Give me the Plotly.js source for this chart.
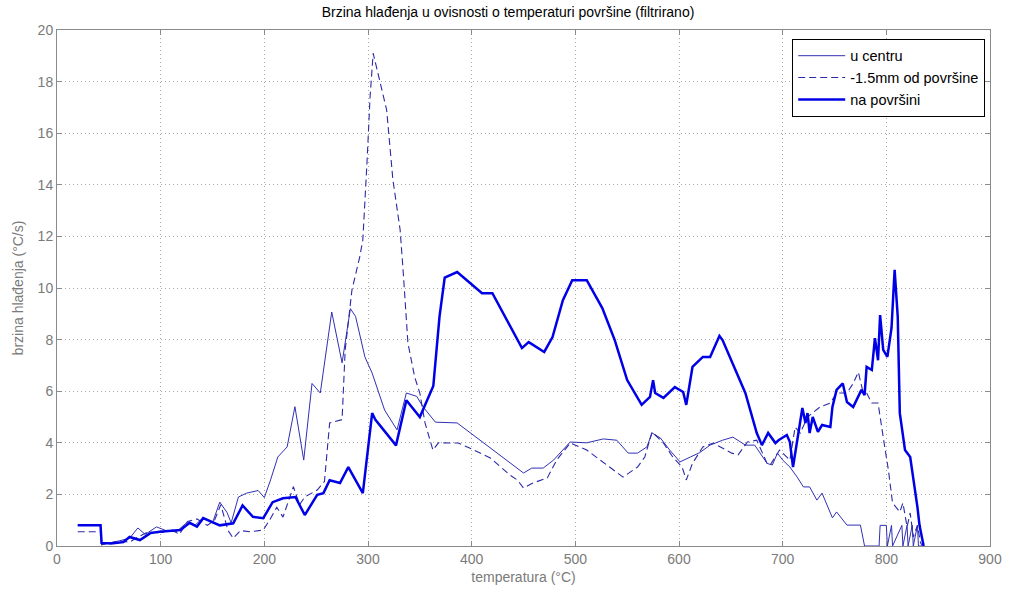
<!DOCTYPE html>
<html>
<head>
<meta charset="utf-8">
<script src="https://cdn.plot.ly/plotly-3.0.1.min.js"></script>
<style>html,body{margin:0;padding:0;background:#fff;}#chart{width:1016px;height:596px;}</style>
</head>
<body>
<div id="chart"></div>
<script>
// u centru
const xCentar = [20, 42, 43, 50, 60, 70, 78, 85, 96, 105, 115, 125, 133, 141, 150, 157, 164, 168, 175, 183, 194, 200, 206, 213, 222, 229.5, 238, 246, 254, 265, 275, 283, 288, 297, 304, 316, 328, 337, 347, 353, 365, 386, 411, 450, 458, 469, 479, 495, 511, 527, 540, 551, 560, 569, 574, 582, 591, 601, 611, 620, 630, 642, 652, 664, 673, 685, 690, 695, 700, 707, 714, 720, 726, 733, 738, 748, 752, 762, 775, 779, 793, 794, 800, 801, 805, 806, 815, 816, 820, 821, 825, 826, 830, 831, 835];
const yCentar = [0.8, 0.8, 0.05, 0.1, 0.2, 0.3, 0.7, 0.45, 0.74, 0.6, 0.55, 0.9, 0.8, 1.1, 0.9, 1.7, 1.3, 0.9, 1.9, 2.05, 2.15, 1.88, 2.56, 3.45, 3.84, 5.4, 3.33, 6.3, 5.93, 9.07, 7.1, 9.2, 8.9, 7.33, 6.7, 5.27, 4.5, 5.93, 5.8, 5.4, 4.8, 4.77, 4.0, 2.83, 3.02, 3.02, 3.33, 4.03, 4.0, 4.15, 4.1, 3.6, 3.6, 3.84, 4.38, 4.19, 3.72, 3.26, 3.45, 3.62, 3.91, 4.1, 4.22, 3.91, 3.91, 3.2, 3.14, 3.6, 3.33, 3.06, 2.67, 2.29, 2.29, 1.78, 2.05, 1.09, 1.32, 0.81, 0.81, 0, 0, 0.8, 0.8, 0, 0.8, 0, 0.8, 0, 0.8, 0, 0.8, 0, 0.8, 0, 0];

// -1.5mm od površine
const xIspod = [20, 42, 43, 50, 60, 70, 78, 88, 100, 110, 118, 126, 135, 145, 152, 158, 165, 170, 177, 186, 199, 205, 212, 218, 228, 234, 239, 251, 258, 263, 275, 278, 284.5, 292, 295, 299, 302, 305, 313, 318, 324, 331, 334, 338.5, 345, 350, 355, 362.6, 368, 387, 398, 418, 437, 444, 450, 459, 473, 482, 495, 511, 546, 560, 567, 574, 585, 594, 603, 607, 613, 623, 633, 651, 657, 666, 675, 685, 688, 697, 707, 712, 717, 724, 736, 746, 752, 762, 768, 773, 777, 781, 786, 792, 797, 802, 806, 813, 816, 820, 823, 826, 830, 833, 835];
const yIspod = [0.55, 0.55, 0.05, 0.1, 0.2, 0.15, 0.35, 0.55, 0.5, 0.65, 0.45, 0.95, 1.05, 0.8, 1.0, 1.6, 0.6, 0.3, 0.6, 0.55, 0.62, 1.0, 1.5, 1.12, 2.3, 1.6, 1.9, 2.17, 2.5, 4.77, 4.9, 7.6, 9.92, 11.2, 11.86, 14.84, 17.4, 19.1, 17.8, 16.9, 14.2, 12.25, 10.6, 7.87, 6.55, 5.93, 4.77, 3.72, 4.0, 3.99, 3.8, 3.41, 2.75, 2.56, 2.25, 2.44, 2.64, 3.33, 3.99, 3.72, 2.67, 3.06, 3.45, 4.42, 3.99, 3.45, 3.06, 2.56, 3.2, 3.84, 3.99, 3.6, 3.53, 4.03, 4.1, 3.2, 3.14, 3.72, 3.33, 4.61, 4.38, 5.0, 5.39, 5.54, 5.93, 5.93, 6.3, 6.74, 6.05, 5.93, 5.54, 5.54, 4.22, 2.94, 1.67, 1.32, 1.67, 0.74, 1.28, 0.35, 0.8, 0.12, 0];

// na površini
const xPovrsina = [20, 42, 43, 52, 64, 70, 80, 90, 99, 110, 119, 128, 135, 141, 150, 157, 170, 179, 189, 199, 208, 218, 230, 239, 251, 257, 263, 273, 281, 295, 304, 307, 327, 337, 350, 363, 369, 374, 386, 410, 420, 448.5, 455, 470, 478, 488, 497, 511, 526, 538, 550, 564, 572, 575, 577, 585, 596, 604, 607, 613, 623, 630, 639, 642, 664, 675, 680, 686, 693, 696, 704, 707, 710, 714, 719, 722, 724, 726, 729, 734, 738, 746, 748, 752, 758, 762, 768, 776, 779, 781, 786, 789, 792, 794, 797, 801, 805, 808, 811, 813, 818, 823, 826, 830, 832, 834, 836];
const yPovrsina = [0.8, 0.8, 0.12, 0.1, 0.15, 0.35, 0.23, 0.5, 0.55, 0.58, 0.62, 0.9, 0.75, 1.08, 0.93, 0.8, 0.88, 1.57, 1.13, 1.08, 1.7, 1.85, 1.9, 1.2, 1.98, 2.05, 2.55, 2.44, 3.06, 2.05, 5.15, 4.9, 3.9, 5.65, 5.0, 6.2, 8.9, 10.4, 10.62, 9.8, 9.8, 7.67, 7.9, 7.52, 8.1, 9.53, 10.3, 10.3, 9.22, 7.98, 6.43, 5.47, 5.78, 6.43, 5.93, 5.74, 6.16, 5.97, 5.47, 6.94, 7.33, 7.33, 8.14, 7.98, 5.93, 4.38, 3.91, 4.38, 3.99, 4.1, 4.3, 4.03, 3.06, 4.1, 5.35, 4.77, 5.15, 4.38, 5.0, 4.42, 4.69, 4.61, 5.39, 6.05, 6.3, 5.58, 5.39, 6.05, 5.85, 6.94, 6.82, 8.06, 7.2, 8.95, 7.6, 7.33, 8.45, 10.7, 8.88, 5.15, 3.72, 3.45, 2.67, 1.51, 0.8, 0.35, 0.0];

const seriesNames = ['u centru', '-1.5mm od površine', 'na površini'];
const xTicks = [0, 100, 200, 300, 400, 500, 600, 700, 800, 900];
const yTicks = [0, 2, 4, 6, 8, 10, 12, 14, 16, 18, 20];
const chartTitle = 'Brzina hlađenja u ovisnosti o temperaturi površine (filtrirano)';
const xTitle = 'temperatura (°C)';
const yTitle = 'brzina hlađenja (°C/s)';

const fontFam = '"Liberation Sans", Arial, sans-serif';

const traces = [
  {x: xCentar, y: yCentar, name: seriesNames[0], mode: 'lines', line: {color: '#3030b4', width: 1}},
  {x: xIspod, y: yIspod, name: seriesNames[1], mode: 'lines', line: {color: '#2a2aa8', width: 1.1, dash: '7px,4px'}},
  {x: xPovrsina, y: yPovrsina, name: seriesNames[2], mode: 'lines', line: {color: '#0000e6', width: 2.5}}
];

const axisCommon = {
  showline: true, mirror: 'ticks', linecolor: '#8a8a8a', linewidth: 1,
  ticks: 'inside', ticklen: 5, tickcolor: '#8a8a8a',
  showgrid: true, gridcolor: '#a8a8a8', griddash: '1px,3px', gridwidth: 1,
  zeroline: false,
  tickfont: {family: fontFam, size: 14, color: '#7a7a7a'}
};

const layout = {
  width: 1016, height: 596,
  margin: {l: 57, r: 26, t: 30, b: 50},
  paper_bgcolor: '#ffffff', plot_bgcolor: '#ffffff',
  showlegend: true,
  title: {text: chartTitle, font: {family: fontFam, size: 14, color: '#000'}, x: 0.5, xanchor: 'center', y: 0.98, yanchor: 'middle', yref: 'container'},
  xaxis: Object.assign({}, axisCommon, {range: [0, 900], tickvals: xTicks, ticktext: xTicks.map(String),
    title: {text: xTitle, font: {family: fontFam, size: 14, color: '#7a7a7a'}, standoff: 6}}),
  yaxis: Object.assign({}, axisCommon, {range: [0, 20], tickvals: yTicks, ticktext: yTicks.map(String),
    title: {text: yTitle, font: {family: fontFam, size: 14, color: '#7a7a7a'}, standoff: 10}}),
  legend: {x: 0.788, y: 0.983, xanchor: 'left', yanchor: 'top', bgcolor: '#ffffff', bordercolor: '#000', borderwidth: 1,
    font: {family: fontFam, size: 14.5, color: '#000'}, itemwidth: 47, tracegroupgap: 0}
};

Plotly.newPlot('chart', traces, layout, {displayModeBar: false, staticPlot: true});
</script>
</body>
</html>
